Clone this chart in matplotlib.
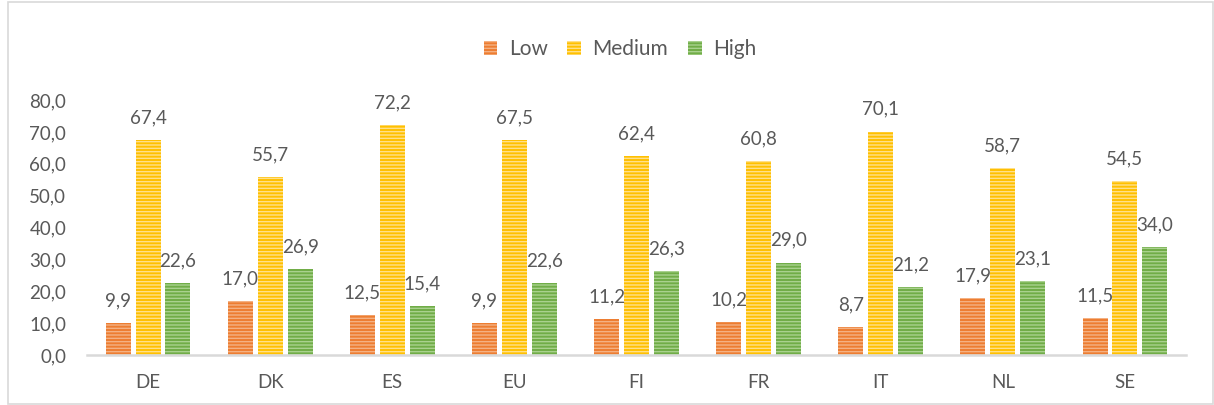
import numpy as np
import matplotlib
matplotlib.use("Agg")
import matplotlib.pyplot as plt
from matplotlib.patches import Rectangle

countries = ["DE", "DK", "ES", "EU", "FI", "FR", "IT", "NL", "SE"]
low = [9.9, 17.0, 12.5, 9.9, 11.2, 10.2, 8.7, 17.9, 11.5]
medium = [67.4, 55.7, 72.2, 67.5, 62.4, 60.8, 70.1, 58.7, 54.5]
high = [22.6, 26.9, 15.4, 22.6, 26.3, 29.0, 21.2, 23.1, 34.0]

series = [("Low", low, "#ED7D31", "#F4B183"),
          ("Medium", medium, "#FFC000", "#FFE08A"),
          ("High", high, "#70AD47", "#A9D18E")]

plt.rcParams['font.family'] = ['Lato', 'DejaVu Sans']
plt.rcParams['hatch.linewidth'] = 1.0
grey = "#595959"

fig = plt.figure(figsize=(12.14, 4.05), dpi=100)
ax = fig.add_axes([87 / 1214, 1 - 355 / 405, 1099 / 1214, 255 / 405])

x = np.arange(len(countries))
width = 0.205
step = 0.245

for i, (name, vals, col, stripe) in enumerate(series):
    pos = x + (i - 1) * step
    ax.bar(pos, vals, width, color=col, edgecolor=stripe, linewidth=0,
           hatch="-----", label=name)
    for px, v in zip(pos, vals):
        ax.annotate(f"{v:.1f}".replace(".", ","), (px, v), xytext=(0, 16),
                    textcoords="offset points", ha="center", va="center",
                    fontsize=13.5, color=grey)

ax.set_xlim(-0.5, len(countries) - 0.5)
ax.set_ylim(0, 80)
ax.set_yticks(np.arange(0, 81, 10))
ax.set_yticklabels([f"{t:.1f}".replace(".", ",") for t in np.arange(0, 81, 10)])
ax.set_xticks(x)
ax.set_xticklabels(countries)
ax.tick_params(axis="both", length=0, labelsize=13.5, labelcolor=grey)
ax.tick_params(axis="y", pad=15)
ax.tick_params(axis="x", pad=14)
for s in ["top", "right", "left"]:
    ax.spines[s].set_visible(False)
ax.spines["bottom"].set_color("#D9D9D9")
ax.spines["bottom"].set_linewidth(1.8)
ax.set_facecolor("none")

fig.legend(loc="center", bbox_to_anchor=(620 / 1214, 1 - 49 / 405), ncol=3,
           frameon=False, fontsize=15, handlelength=0.65, handleheight=0.65,
           handletextpad=0.55, columnspacing=0.95, labelcolor=grey)

fig.patches.append(Rectangle((8 / 1214, 0.002), 1 - 9 / 1214, 0.994,
                             transform=fig.transFigure, fill=False,
                             edgecolor="#D9D9D9", linewidth=1.2))

fig.savefig("out.png", dpi=100)
